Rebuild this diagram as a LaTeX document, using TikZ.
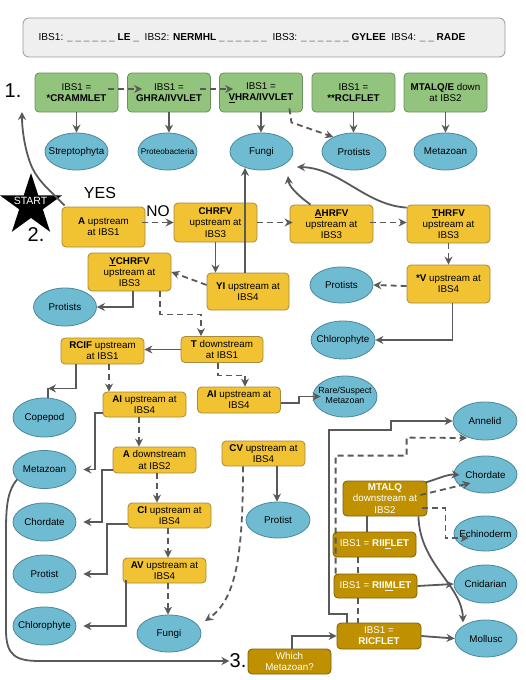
\documentclass[tikz,border=0pt]{standalone}
\usepackage{fontspec}
\setmainfont{Liberation Sans}
\usetikzlibrary{shapes.geometric,arrows.meta,calc}
\definecolor{grn}{HTML}{93C47D}
\definecolor{grnd}{HTML}{6B8F5E}
\definecolor{org}{HTML}{F1C232}
\definecolor{orgd}{HTML}{A8883A}
\definecolor{blu}{HTML}{6FBCD2}
\definecolor{blud}{HTML}{4B8799}
\definecolor{brn}{HTML}{BF9000}
\definecolor{brnd}{HTML}{7F6000}
\definecolor{ac}{HTML}{595959}
\definecolor{hdrf}{HTML}{EFEFEF}
\definecolor{hdrd}{HTML}{999999}
\newcommand\fs{\fontsize{9.8}{11.2}\selectfont}
\newcommand\mb[1]{\makebox[0pt]{#1}}
\begin{document}
\begin{tikzpicture}[x=1pt,y=-1pt,
 basebox/.style={rectangle,rounded corners=4pt,line width=0.8pt,align=center,font=\fs,inner sep=1pt,minimum width=83pt},
 gbox/.style={basebox,fill=grn,draw=grnd,minimum height=39pt},
 obox/.style={basebox,fill=org,draw=orgd,minimum height=26pt},
 bbox/.style={basebox,fill=brn,draw=brnd,text=white,minimum height=25pt},
 ell/.style={ellipse,fill=blu,draw=blud,line width=0.8pt,minimum width=63pt,minimum height=37pt,inner sep=0pt,font=\fs},
 arr/.style={draw=ac,line width=1.8pt,-{Stealth[length=8pt,width=8pt]}},
 darr/.style={arr,dash pattern=on 6pt off 4pt},
 ln/.style={draw=ac,line width=1.8pt},
 dln/.style={ln,dash pattern=on 6pt off 4pt},
 numlbl/.style={font=\fontsize{20}{20}\selectfont,inner sep=0pt},
]
\useasboundingbox (0,0) rectangle (525,680);

% header
\node[rectangle,rounded corners=6pt,fill=hdrf,draw=hdrd,line width=0.8pt,minimum width=482pt,minimum height=39pt,font=\fontsize{10.1}{11}\selectfont] (hdr) at (264,37.5)
 {IBS1: \textbf{\_ \_ \_ \_ \_ \_ LE \_}\ \ IBS2: \textbf{NERMHL \_ \_ \_ \_ \_ \_}\ \ IBS3: \textbf{\_ \_ \_ \_ \_ \_ GYLEE}\ \ IBS4: \textbf{\_ \_ RADE}\hspace*{24pt}};

% row 1
\node[gbox] (g1) at (76.5,92.5) {IBS1 =\\\textbf{*CRAMMLET}};
\node[gbox] (g2) at (169,92.5) {IBS1 =\\\textbf{GHRA/IVVLET}};
\node[gbox] (g3) at (261,92.5) {IBS1 =\\\textbf{\underline{V}HRA/IVVLET}};
\node[gbox] (g4) at (353.5,92.5) {IBS1 =\\\textbf{**RCLFLET}};
\node[gbox] (g5) at (445.5,92.5) {\textbf{MTALQ/E} down\\at IBS2};

\node[ell] (e1) at (76.5,151.5) {\mb{Streptophyta}};
\node[ell,minimum width=59pt] (e2) at (167.5,151.5) {\mb{\fontsize{8.2}{9}\selectfont Proteobacteria}};
\node[ell] (e3) at (261.5,151.5) {\mb{Fungi}};
\node[ell,minimum width=64pt] (e4) at (354,151.5) {\mb{Protists}};
\node[ell] (e5) at (445.5,151.5) {\mb{Metazoan}};

% start
\node[star,star points=5,star point ratio=2.618,minimum size=65pt,inner sep=0pt,fill=black] (start) at (31,205.5) {};
\node[text=white,font=\fontsize{10.5}{10.5}\selectfont,inner sep=0pt] (starttxt) at (30.5,201) {START};
\node[numlbl] (one) at (13,91) {1.};
\node[numlbl] (two) at (36,235) {2.};
\node[numlbl] (three) at (238,661) {3.};
\node[font=\fontsize{16}{16}\selectfont,inner sep=0pt] (yes) at (100,193) {YES};
\node[font=\fontsize{15.5}{16}\selectfont,inner sep=0pt] (no) at (158,211) {NO};

% row 2
\node[obox,minimum height=40pt] (a1) at (103.5,227) {\textbf{A} upstream\\at IBS1};
\node[obox,minimum height=39pt] (chrfv) at (215.5,222.5) {\textbf{CHRFV}\\upstream at\\IBS3};
\node[obox,minimum height=38pt] (ahrfv) at (331.5,224) {\textbf{\underline{A}HRFV}\\upstream at\\IBS3};
\node[obox,minimum height=38pt] (thrfv) at (448.5,224) {\textbf{\underline{T}HRFV}\\upstream at\\IBS3};
\node[obox,minimum height=38pt] (ychrfv) at (129.5,272) {\textbf{\underline{Y}CHRFV}\\upstream at\\IBS3};
\node[obox,minimum height=37pt,minimum width=82pt] (yi) at (248,291.5) {\textbf{YI} upstream at\\IBS4};
\node[obox,minimum height=38pt] (sv) at (448.5,284) {\textbf{*V} upstream at\\IBS4};

\node[ell,minimum height=38pt] (protL) at (65,307) {\mb{Protists}};
\node[ell,minimum height=36pt] (protR) at (341.5,285) {\mb{Protists}};
\node[ell,minimum width=64pt,minimum height=38pt] (chloR) at (343,340) {\mb{Chlorophyte}};
\node[obox,minimum width=82pt] (tdown) at (222,349.5) {\textbf{T} downstream\\at IBS1};
\node[obox] (rcif) at (102.5,351) {\textbf{RCIF} upstream\\at IBS1};
\node[obox,minimum height=25pt] (aiL) at (144.5,404.5) {\textbf{AI} upstream at\\IBS4};
\node[obox] (aiR) at (239,400) {\textbf{AI} upstream at\\IBS4};
\node[ell,minimum width=64pt,minimum height=41pt] (rare) at (345,396.5) {\mb{\fontsize{8.8}{10}\selectfont\begin{tabular}{@{}c@{}}Rare/Suspect\\Metazoan\end{tabular}}};
\node[obox,minimum height=25pt] (cv) at (263.5,453.5) {\textbf{CV} upstream at\\IBS4};
\node[ell,minimum width=64pt,minimum height=36pt] (protC) at (278,520) {\mb{Protist}};

\node[ell,minimum height=39pt] (cope) at (44.5,417.5) {\mb{Copepod}};
\node[ell,minimum height=38pt] (metaL) at (44.5,469.5) {\mb{Metazoan}};
\node[ell,minimum height=38pt] (chordL) at (44.5,522) {\mb{Chordate}};
\node[ell,minimum height=38pt] (protistL) at (44.5,574) {\mb{Protist}};
\node[ell,minimum height=38pt] (chloL) at (44.5,626) {\mb{Chlorophyte}};
\node[obox] (adown) at (154.5,460) {\textbf{A} downstream\\at IBS2};
\node[obox,minimum height=25pt] (ci) at (169.5,515.5) {\textbf{CI} upstream at\\IBS4};
\node[obox,minimum height=25pt] (av) at (164.5,570.5) {\textbf{AV} upstream at\\IBS4};
\node[ell,minimum width=64pt] (fungiL) at (169,633.5) {\mb{Fungi}};

% brown
\node[bbox,minimum width=84pt,minimum height=35pt] (mtalq) at (385,498.5) {\textbf{MTALQ}\\downstream at\\IBS2};
\node[bbox] (riif) at (374.5,544.5) {IBS1 = \textbf{RII\underline{F}LET}};
\node[bbox,minimum height=24pt] (riim) at (375.5,586) {IBS1 = \textbf{RII\underline{M}LET}};
\node[bbox,minimum width=84pt,minimum height=26pt] (ricf) at (379,636) {IBS1 =\\\textbf{RICFLET}};
\node[bbox] (which) at (289.5,661.5) {Which\\Metazoan?};

\node[ell,minimum width=64pt,minimum height=38pt] (anne) at (485,421) {\mb{Annelid}};
\node[ell] (chordR) at (485.5,474.5) {\mb{Chordate}};
\node[ell,minimum height=35pt] (echi) at (485.5,533.5) {\mb{Echinoderm}};
\node[ell,minimum height=38pt] (cnid) at (485.5,584) {\mb{Cnidarian}};
\node[ell,minimum width=62pt] (moll) at (486,638.5) {\mb{Mollusc}};

% connectors row 1
\draw[arr] (g1.south) -- (e1.north);
\draw[arr] (g2.south) -- (g2.south |- e2.north);
\draw[arr] (g3.south) -- (g3.south |- e3.north);
\draw[arr] (g4.south) -- (g4.south |- e4.north);
\draw[arr] (g5.south) -- (e5.north);
\draw[darr] ([xshift=-10pt,yshift=3.5pt]g1.east) -- ([xshift=15pt,yshift=3.5pt]g2.west);
\draw[darr] ([xshift=-11pt,yshift=3.5pt]g2.east) -- ([xshift=14pt,yshift=3.5pt]g3.west);
\draw[darr] ([xshift=-13.5pt,yshift=4pt]g3.south east) -- ++(2,14) -- (e4.145);

% start / yes
\draw[arr] ([xshift=3pt,yshift=1pt]a1.north west) .. controls (52,192) and (38,182) .. (31,165) .. controls (25,150) and (22,130) .. ([xshift=9pt,yshift=-21pt]one.center);

% row 2
\draw[darr] ([xshift=-3pt,yshift=4.5pt]a1.east) -- (chrfv.west);
\draw[darr] (chrfv.east) -- ([xshift=3pt,yshift=1.5pt]ahrfv.west);
\draw[darr] ([xshift=-3pt,yshift=1.5pt]ahrfv.east) -- ([yshift=1.5pt]thrfv.west);
\draw[arr] (chrfv.south) -- (chrfv.south |- yi.north);
\draw[arr,shorten >=-2.5pt] ([xshift=-3pt]yi.north) -- ([xshift=-3pt]yi.north |- e3.south);
\draw[darr] ([yshift=6.5pt]yi.west) -- (ychrfv.east);
\draw[arr] ([xshift=-21pt]ahrfv.north) .. controls (296,194) and (289,186) .. ([xshift=26.5pt,yshift=-24.5pt]e3.center);
\draw[arr] ([yshift=-3pt]thrfv.north west) .. controls (365,205) and (340,168) .. ([xshift=35.5pt,yshift=-15.5pt]e3.center);
\draw[darr] (thrfv.south) -- (sv.north);
\draw[darr] ([yshift=-2pt]sv.west) -- (protR.east);
\draw[arr] ([xshift=4pt]sv.south) |- (chloR.east);
\draw[arr] ([xshift=3.5pt]ychrfv.south) |- (protL.east);
\draw[darr] ([xshift=30.5pt]ychrfv.south) -- ++(0,23) -| ([xshift=-21pt]tdown.north);
\draw[arr] (tdown.west) -- (tdown.west -| rcif.east);
\draw[darr] ([xshift=-4pt]tdown.south) -- ++(0,12.5) -| ([xshift=6pt]aiR.north);
\draw[arr] ([xshift=-26.5pt]rcif.south) -- ++(0,24) -- ++(-28,0);
\draw[ln] ([xshift=3.5pt]cope.north) -- ++(0,-10);
\draw[darr] ([xshift=6.5pt]rcif.south) -- ([xshift=6.5pt]rcif.south |- aiL.north);
\draw[arr,shorten >=7pt] ([yshift=-8.5pt]aiL.west) -- ++(-8,0) |- (metaL.east);
\draw[darr] ([xshift=-5.5pt]aiL.south) -- ([xshift=-5.5pt]aiL.south |- adown.north);
\draw[arr,shorten >=7pt] ([yshift=-10pt]adown.west) -- ++(-11,0) |- (chordL.east);
\draw[darr] ([xshift=2.5pt]adown.south) -- ([xshift=2.5pt]adown.south |- ci.north);
\draw[arr,shorten >=7pt] ([yshift=-8.5pt]ci.west) -- ++(-21,0) |- (protistL.east);
\draw[darr] ([xshift=-1.5pt]ci.south) -- ([xshift=-1.5pt]ci.south |- av.north);
\draw[arr,shorten >=7pt] ([xshift=3pt,yshift=3pt]av.south west) |- (chloL.east);
\draw[darr] ([xshift=3.5pt]av.south) -- ([xshift=3.5pt]av.south |- fungiL.north);
\draw[arr] ([xshift=13.5pt]cv.south) -- ([xshift=13.5pt]cv.south |- protC.north);
\draw[darr,shorten >=8pt] ([xshift=-20.5pt]cv.south) .. controls (243,560) and (235,600) .. (fungiL.15);
\draw[arr,shorten >=-8pt] ([yshift=-3pt]aiR.east) -- ++(18,0) -- ++(0,-6.5) -- (rare.west);
\draw[arr] (metaL.200) .. controls (8,490) and (6,505) .. (6,530) -- (6,630) .. controls (6,656) and (16,661) .. (40,661) -- (three.west);

% right side
\draw[arr] ([xshift=2.5pt]which.north) |- (ricf.west);
\draw[arr] (ricf.east) -- (moll.west);
\draw[arr] ([xshift=-32pt]ricf.north) -- ++(0,-9) -| ++(-18,-184) -- ++(62,0) |- (anne.west);
\draw[darr] ([xshift=2pt]riim.north west) -- ++(0,-118) -- ++(71,0) -- ++(0,-18) -- ([xshift=-18pt,yshift=-17pt]anne.center);
\draw[arr,shorten >=-6pt] ([xshift=-2pt,yshift=-2pt]mtalq.north east) .. controls (440,478) and (448,474) .. (chordR.west);
\draw[darr] ([xshift=-7pt,yshift=3.5pt]mtalq.east) -- ([xshift=-15pt,yshift=-8.5pt]chordR.center);
\draw[darr] ([xshift=-5pt,yshift=-9.5pt]mtalq.east) -- ++(23,0) |- ([xshift=-17pt,yshift=-4.5pt]echi.center);
\draw[arr] ([xshift=-9pt]mtalq.south east) .. controls (420,565) and (462,585) .. ([xshift=-23pt,yshift=16pt]moll.center);
\draw[ln] ([xshift=-18pt]mtalq.south) -- ([xshift=-18pt]mtalq.south |- riif.north);
\draw[dln] ([xshift=-16.5pt]riif.south) -- ([xshift=-16.5pt]riif.south |- riim.north);
\draw[dln] ([xshift=-17.5pt]riim.south) -- ([xshift=-17.5pt]riim.south |- ricf.north);
\draw[arr] (riim.east) -- (cnid.west);
\end{tikzpicture}
\end{document}
